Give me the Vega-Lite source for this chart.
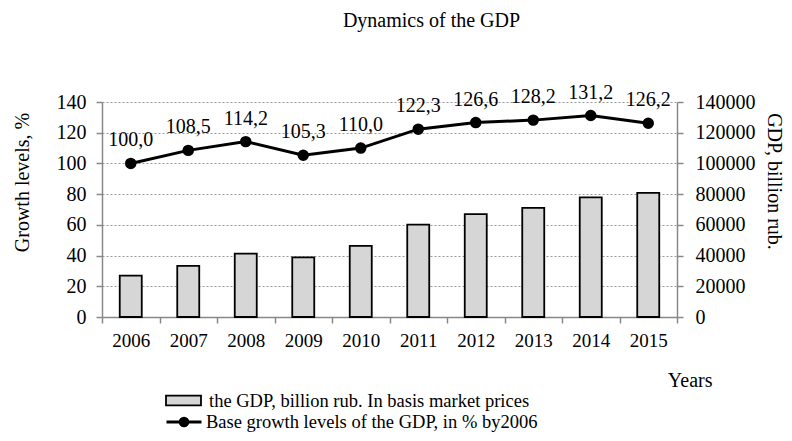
{
  "$schema": "https://vega.github.io/schema/vega-lite/v6.json",
  "width": 575,
  "height": 215,
  "autosize": {"type": "none"},
  "padding": {"left": 102, "top": 102, "right": 115, "bottom": 124},
  "background": "white",
  "title": {
    "text": "Dynamics of the GDP",
    "font": "Liberation Serif",
    "fontSize": 20,
    "fontWeight": "normal",
    "color": "black",
    "frame": "group",
    "anchor": "middle",
    "dx": 42,
    "offset": 52
  },
  "config": {
    "view": {"stroke": null},
    "font": "Liberation Serif",
    "axis": {
      "labelFont": "Liberation Serif",
      "titleFont": "Liberation Serif",
      "labelFontSize": 20,
      "titleFontSize": 20,
      "titleFontWeight": "normal",
      "labelColor": "black",
      "titleColor": "black",
      "domainColor": "#888888",
      "tickColor": "#888888",
      "domainWidth": 1.5,
      "tickWidth": 1.5
    }
  },
  "data": {
    "values": [
      {"year": "2006", "gdp": 26917, "growth": 100.0, "label": "100,0"},
      {"year": "2007", "gdp": 33248, "growth": 108.5, "label": "108,5"},
      {"year": "2008", "gdp": 41277, "growth": 114.2, "label": "114,2"},
      {"year": "2009", "gdp": 38807, "growth": 105.3, "label": "105,3"},
      {"year": "2010", "gdp": 46309, "growth": 110.0, "label": "110,0"},
      {"year": "2011", "gdp": 60114, "growth": 122.3, "label": "122,3"},
      {"year": "2012", "gdp": 66927, "growth": 126.6, "label": "126,6"},
      {"year": "2013", "gdp": 71017, "growth": 128.2, "label": "128,2"},
      {"year": "2014", "gdp": 77945, "growth": 131.2, "label": "131,2"},
      {"year": "2015", "gdp": 80804, "growth": 126.2, "label": "126,2"}
    ]
  },
  "encoding": {
    "x": {
      "field": "year",
      "type": "ordinal",
      "scale": {"paddingInner": 0, "paddingOuter": 0},
      "axis": {
        "labelAngle": 0,
        "labelFontSize": 19,
        "tickBand": "extent",
        "tickSize": 6,
        "labelPadding": 8,
        "title": "Years",
        "titleX": 610,
        "titleY": 63,
        "titleAlign": "right",
        "titleBaseline": "middle",
        "titleAnchor": null
      }
    }
  },
  "layer": [
    {
      "mark": {"type": "bar", "width": 22, "stroke": "black", "strokeWidth": 1.8},
      "encoding": {
        "y": {
          "field": "gdp",
          "type": "quantitative",
          "scale": {"domain": [0, 140000], "nice": false},
          "axis": {
            "orient": "right",
            "values": [0, 20000, 40000, 60000, 80000, 100000, 120000, 140000],
            "format": "d",
            "grid": false,
            "tickSize": 6,
            "labelPadding": 12,
            "title": "GDP, billion rub.",
            "titleAngle": 90,
            "titleX": 96,
            "titleY": 79,
            "titleAlign": "center",
            "titleBaseline": "middle"
          }
        },
        "fill": {
          "datum": "the GDP, billion rub. In basis market prices",
          "scale": {"range": ["#d6d6d6"]},
          "legend": {
            "title": null,
            "orient": "none",
            "legendX": 63,
            "legendY": 280,
            "padding": 0,
            "symbolType": "M-1,-0.28H1V0.28H-1Z",
            "symbolSize": 1225,
            "symbolStrokeColor": "black",
            "symbolStrokeWidth": 1.8,
            "labelFont": "Liberation Serif",
            "labelFontSize": 18.5,
            "labelColor": "black",
            "labelOffset": 7,
            "labelLimit": 500
          }
        }
      }
    },
    {
      "mark": {"type": "line", "color": "black", "strokeWidth": 3, "point": {"filled": true, "size": 90, "color": "black"}},
      "encoding": {
        "y": {
          "field": "growth",
          "type": "quantitative",
          "scale": {"domain": [0, 140], "nice": false},
          "axis": {
            "orient": "left",
            "values": [0, 20, 40, 60, 80, 100, 120, 140],
            "grid": true,
            "gridColor": "#999999",
            "gridDash": [2, 2],
            "gridWidth": 1,
            "tickSize": 6,
            "labelPadding": 10,
            "title": "Growth levels, %",
            "titleAngle": -90,
            "titleX": -80,
            "titleY": 80,
            "titleAlign": "center",
            "titleBaseline": "middle"
          }
        },
        "stroke": {
          "datum": "Base growth levels of the GDP, in % by2006",
          "scale": {"range": ["black"]},
          "legend": {
            "title": null,
            "orient": "none",
            "legendX": 63,
            "legendY": 301,
            "padding": 0,
            "symbolType": "M-1,0H1M0.22,0A0.22,0.22 0 1,1 -0.22,0A0.22,0.22 0 1,1 0.22,0Z",
            "symbolSize": 1225,
            "symbolStrokeColor": "black",
            "symbolFillColor": "black",
            "symbolStrokeWidth": 3,
            "labelFont": "Liberation Serif",
            "labelFontSize": 18.5,
            "labelColor": "black",
            "labelOffset": 3,
            "labelLimit": 500
          }
        }
      }
    },
    {
      "mark": {"type": "text", "dy": -23, "font": "Liberation Serif", "fontSize": 20, "color": "black", "baseline": "middle"},
      "encoding": {
        "y": {"field": "growth", "type": "quantitative", "scale": {"domain": [0, 140], "nice": false}, "axis": null},
        "text": {"field": "label"}
      }
    }
  ],
  "resolve": {"scale": {"y": "independent"}}
}
